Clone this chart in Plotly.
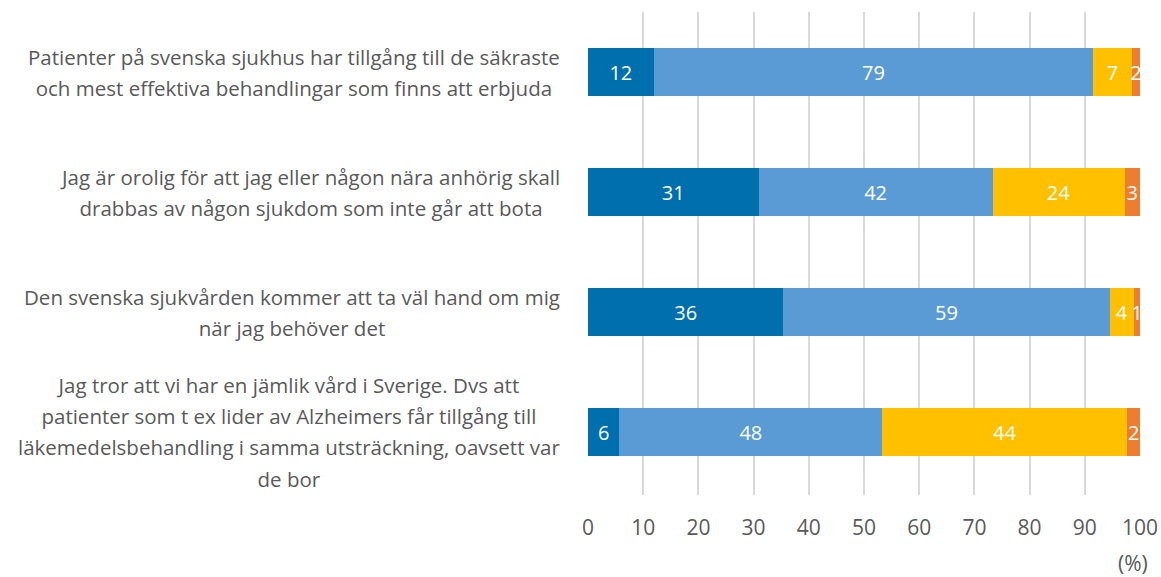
import plotly.graph_objects as go

categories = [
    "Patienter på svenska sjukhus har tillgång till de säkraste<br>och mest effektiva behandlingar som finns att erbjuda",
    "Jag är orolig för att jag eller någon nära anhörig skall<br>drabbas av någon sjukdom som inte går att bota",
    "Den svenska sjukvården kommer att ta väl hand om mig<br>när jag behöver det",
    "Jag tror att vi har en jämlik vård i Sverige. Dvs att<br>patienter som t ex lider av Alzheimers får tillgång till<br>läkemedelsbehandling i samma utsträckning, oavsett var<br>de bor",
]
cat_ids = ["c1", "c2", "c3", "c4"]

series_names = ["Serie 1", "Serie 2", "Serie 3", "Serie 4"]
values = [
    [11.9, 30.9, 35.4, 5.7],
    [79.6, 42.4, 59.1, 47.6],
    [7.0, 23.9, 4.4, 44.4],
    [1.5, 2.8, 1.1, 2.3],
]
labels = [
    ["12", "31", "36", "6"],
    ["79", "42", "59", "48"],
    ["7", "24", "4", "44"],
    ["2", "3", "1", "2"],
]
colors = ["#006fae", "#5b9bd5", "#ffc000", "#ed7d31"]
x_ticks = [0, 10, 20, 30, 40, 50, 60, 70, 80, 90, 100]

FONT = "Open Sans"
GREY = "#595959"

fig = go.Figure()
for name, vals, labs, col in zip(series_names, values, labels, colors):
    fig.add_trace(go.Bar(
        y=cat_ids, x=vals, name=name, orientation="h",
        marker=dict(color=col, line=dict(width=0)),
        text=labs, textposition="inside", insidetextanchor="middle",
        constraintext="none", textangle=0,
        textfont=dict(color="white", size=20, family=FONT),
        hoverinfo="x+name",
    ))

# category labels as annotations (centered lines, right-aligned block)
for cid, txt in zip(cat_ids, categories):
    lines = txt.split("<br>")
    styled = "<br>".join('<span style="font-size:20.5px">%s</span>' % l for l in lines)
    fig.add_annotation(
        x=-0.047, xref="paper", y=cid, yref="y",
        text=styled, showarrow=False, xanchor="right", yanchor="middle",
        align="center", font=dict(family=FONT, size=24, color=GREY),
    )

fig.add_annotation(
    x=(1133 - 588) / 552, xref="paper", y=-0.141, yref="paper",
    text="(%)", showarrow=False, xanchor="center", yanchor="middle",
    font=dict(family=FONT, size=21, color=GREY),
)

fig.update_layout(
    barmode="stack",
    bargap=0.595,
    width=1161, height=577,
    autosize=False,
    margin=dict(l=588, r=21, t=12, b=82, autoexpand=False),
    paper_bgcolor="white", plot_bgcolor="white",
    showlegend=False,
    font=dict(family=FONT, color=GREY),
    xaxis=dict(
        range=[0, 100], tickvals=x_ticks, ticktext=[str(t) for t in x_ticks],
        showgrid=True, gridcolor="#d9d9d9", gridwidth=1.5,
        zeroline=False, showline=False, automargin=False,
        ticks="outside", ticklen=14, tickcolor="rgba(0,0,0,0)",
        tickfont=dict(family=FONT, size=21, color=GREY),
        fixedrange=True,
    ),
    yaxis=dict(
        categoryorder="array", categoryarray=cat_ids, autorange="reversed",
        showticklabels=False, showgrid=False, zeroline=False, showline=False,
        automargin=False, fixedrange=True,
    ),
)

fig.write_html("out.html", config={"displayModeBar": False},
               post_script="document.body.style.margin='0';")
